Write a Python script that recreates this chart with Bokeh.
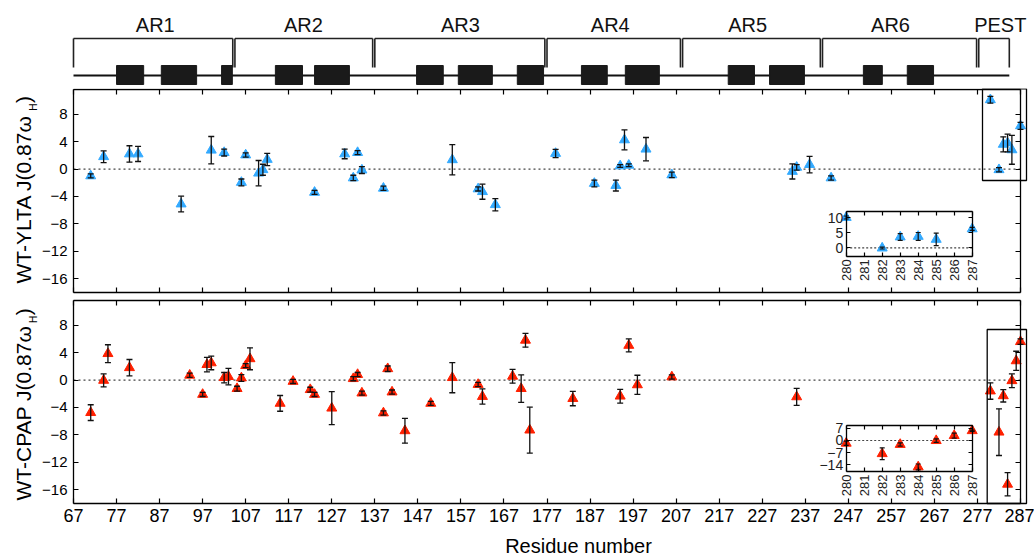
import math
import numpy as np
from bokeh.plotting import figure
from bokeh.models import (Range1d, LinearAxis, FixedTicker, ColumnDataSource,
                          CustomLabelingPolicy)
from bokeh.layouts import column
from bokeh.embed import file_html
from bokeh.resources import INLINE
from bokeh.core.properties import value

FONT = "Liberation Sans"

# ---------------- data ----------------
res_ylta = [71, 74, 80, 82, 92, 99, 102, 106, 107, 110, 111, 112, 123, 130, 132, 133, 134, 139,
            155, 161, 162, 165, 179, 188, 193, 194, 195, 196, 200, 206, 234, 235, 238, 243,
            280, 282, 283, 284, 285, 287]
val_ylta = [-1.0, 1.8, 2.2, 2.2, -5.1, 2.75, 2.4, -1.95, 2.05, -0.6, -0.1, 1.4, -3.4, 2.2, -1.3,
            2.4, -0.15, -2.8, 1.35, -2.9, -3.3, -5.2, 2.27, -2.1, -2.4, 0.45, 4.25, 0.55, 2.9,
            -0.85, -0.35, 0.25, 0.65, -1.3, 10.1, -0.1, 3.6, 3.8, 2.8, 6.3]
err_ylta = [0.3, 0.85, 1.2, 1.1, 1.15, 2.0, 0.5, 0.5, 0.3, 1.85, 0.8, 0.9, 0.3, 0.7, 0.4, 0.3,
            0.5, 0.3, 2.2, 0.3, 1.1, 0.9, 0.6, 0.5, 0.8, 0.2, 1.45, 0.2, 1.7, 0.4, 1.1, 0.4,
            1.2, 0.3, 0.5, 0.3, 1.1, 1.3, 2.1, 0.5]

res_cpap = [71, 74, 75, 80, 94, 97, 98, 99, 102, 103, 105, 106, 107, 108, 115, 118, 122, 123,
            127, 132, 133, 134, 139, 140, 141, 144, 150, 155, 161, 162, 169, 171, 172, 173, 183,
            194, 196, 198, 206, 235, 280, 282, 283, 284, 285, 286, 287]
val_cpap = [-4.75, -0.05, 3.85, 1.8, 0.7, -2.1, 2.25, 2.5, 0.35, 0.5, -1.25, 0.3, 2.1, 3.1,
            -3.4, -0.2, -1.4, -2.1, -4.1, 0.2, 0.8, -1.9, -4.8, 1.65, -1.75, -7.4, -3.4, 0.35,
            -0.65, -2.4, 0.55, -1.25, 5.8, -7.3, -2.7, -2.35, 5.05, -0.7, 0.45, -2.45,
            -1.6, -7.6, -2.3, -15.2, -0.1, 2.8, 5.6]
err_cpap = [1.15, 0.95, 1.3, 1.2, 0.3, 0.3, 1.05, 1.0, 0.75, 1.2, 0.35, 0.5, 0.3, 1.6, 1.15,
            0.3, 0.35, 0.3, 2.4, 0.3, 0.3, 0.3, 0.3, 0.4, 0.3, 1.8, 0.3, 2.2, 0.3, 1.1, 1.0,
            2.0, 1.0, 3.35, 1.05, 1.0, 0.95, 1.4, 0.3, 1.25, 1.2, 3.4, 0.9, 1.7, 1.0, 1.4, 0.4]

x_ticks = [67, 77, 87, 97, 107, 117, 127, 137, 147, 157, 167, 177, 187, 197, 207, 217, 227,
           237, 247, 257, 267, 277, 287]
y_ticks = [-16, -12, -8, -4, 0, 4, 8]
inset_x_ticks = [280, 281, 282, 283, 284, 285, 286, 287]
inset1_y_ticks = [0, 5, 10]
inset2_y_ticks = [-14, -7, 0, 7]

dom_names = ["AR1", "AR2", "AR3", "AR4", "AR5", "AR6", "PEST"]
dom_start = [67, 104.5, 137, 177, 208.5, 241, 277.3]
dom_end = [104, 136.5, 176.5, 208, 240.5, 276.8, 284.4]
dom_label_x = [86.0, 120.4, 156.9, 191.7, 223.6, 256.8, 282.3]
hel_start = [77.0, 87.4, 101.4, 113.9, 123.0, 146.7, 156.4, 170.1, 185.0, 195.2, 219.1, 228.7,
             250.5, 260.7]
hel_end = [83.3, 95.6, 103.9, 120.2, 131.1, 152.9, 164.3, 176.2, 191.0, 203.1, 225.2, 236.8,
           254.9, 266.8]

BLUE = "#33aaff"
RED = "#ff2000"

# ---------------- layout constants (pixels) ----------------
W = 1034
XR = (67, 287)
YR = (-18, 11.6)
BL, BR = 73, 14             # plot box left / right margin
FW = W - BL - BR            # 947
FH = 203
PXX = FW / (XR[1] - XR[0])  # px per residue
PXY = FH / (YR[1] - YR[0])  # px per unit
X_FULL = (XR[0] - BL / PXX, XR[1] + BR / PXX)
BASE_SHIFT = 0.32           # glyph text sits this many em below the requested baseline

NO_LABELS = CustomLabelingPolicy(code="return []")


def xdata(px):
    return XR[0] + (px - BL) / PXX


# ---------------- domain diagram ----------------
dom = figure(output_backend="svg", toolbar_location=None, width=W, height=88,
             x_range=Range1d(*X_FULL), y_range=Range1d(88, 0),
             min_border=0, x_axis_location=None, y_axis_location=None, outline_line_color=None)
dom.xgrid.visible = False
dom.ygrid.visible = False
n = len(dom_start)
dom.segment(x0=dom_start, x1=dom_end, y0=[38] * n, y1=[38] * n, line_color="#222", line_width=1.6)
dom.segment(x0=dom_start, x1=dom_start, y0=[38] * n, y1=[67] * n, line_color="#222", line_width=1.6)
dom.segment(x0=dom_end, x1=dom_end, y0=[38] * n, y1=[67] * n, line_color="#222", line_width=1.6)
dom.segment(x0=[dom_start[0]], x1=[dom_end[-1]], y0=[75], y1=[75], line_color="#111", line_width=2)
dom.quad(left=hel_start, right=hel_end, bottom=[84] * len(hel_start), top=[65] * len(hel_start),
         fill_color="#1a1a1a", line_color="#1a1a1a")
dom.text(x=dom_label_x, y=[31 - BASE_SHIFT * 20] * n, text=dom_names, text_font=value(FONT),
         text_font_size="20px", text_align="center", text_baseline="alphabetic",
         text_color="#111")


def style_axis(ax, tick_len=5, labels=True, size="15px", standoff=6, lw=1.3):
    ax.major_tick_in = tick_len
    ax.major_tick_out = 0
    ax.minor_tick_line_color = None
    ax.axis_line_color = "black"
    ax.axis_line_width = lw
    ax.major_tick_line_color = "black"
    ax.major_tick_line_width = 1.2
    ax.major_label_text_font = FONT
    ax.major_label_text_color = "black"
    ax.major_label_text_font_size = size
    ax.major_label_standoff = standoff
    if not labels:
        ax.major_label_policy = NO_LABELS


def add_errbars(p, src, cap, lw, **kw):
    p.segment(x0="x", x1="x", y0="lo", y1="hi", source=src, line_color="#111", line_width=lw, **kw)
    p.scatter("x", "lo", source=src, marker="dash", size=cap, line_color="#111", line_width=lw, **kw)
    p.scatter("x", "hi", source=src, marker="dash", size=cap, line_color="#111", line_width=lw, **kw)


def make_panel(res, val, err, color, name, canvas, area, title_start_px, box, inset):
    c_top, c_bot = canvas          # canvas rows on the page
    a_top, a_bot = area            # plot-box rows on the page

    def ydata(px):
        return YR[1] - (px - a_top) / PXY

    p = figure(output_backend="svg", toolbar_location=None, width=W, height=c_bot - c_top,
               x_range=Range1d(*X_FULL), y_range=Range1d(ydata(c_bot), ydata(c_top)),
               min_border=0, x_axis_location=None, y_axis_location=None,
               outline_line_color=None, background_fill_color="white")
    p.xgrid.visible = False
    p.ygrid.visible = False

    # axes forming the plot box
    left = LinearAxis(ticker=FixedTicker(ticks=y_ticks), fixed_location=XR[0], bounds=YR)
    style_axis(left)
    p.add_layout(left, "left")
    right = LinearAxis(ticker=FixedTicker(ticks=y_ticks), fixed_location=XR[1], bounds=YR)
    style_axis(right, labels=False)
    p.add_layout(right, "right")
    above = LinearAxis(ticker=FixedTicker(ticks=x_ticks), fixed_location=YR[1], bounds=XR)
    style_axis(above, labels=False)
    p.add_layout(above, "above")
    bottom = name == "CPAP"
    below = LinearAxis(ticker=FixedTicker(ticks=x_ticks), fixed_location=YR[0], bounds=XR)
    if bottom:
        style_axis(below, size="18px", standoff=5)
    else:
        style_axis(below, labels=False)
    p.add_layout(below, "below")

    # dotted zero line
    p.segment(x0=[XR[0]], x1=[XR[1]], y0=[0], y1=[0], line_dash="2 3", line_color="#444",
              line_width=1.2)

    r = np.array(res, dtype=float)
    v = np.array(val, dtype=float)
    e = np.array(err, dtype=float)
    src = ColumnDataSource(dict(x=r, y=v, lo=v - e, hi=v + e))
    p.scatter("x", "y", source=src, marker="triangle", size=10, fill_color=color,
              line_color=color)
    add_errbars(p, src, 6, 1.3)

    # PEST highlight box
    p.quad(left=[xdata(box[0])], right=[xdata(box[1])], bottom=[ydata(box[3])],
           top=[ydata(box[2])], fill_color=None, line_color="black", line_width=1.3)

    # y title with subscript H (rotated; text "down" points to +x)
    em = 21.0
    main = "WT-" + name + " J(0.87\u03c9"
    main_w = (8.226 + (0.222 if name == "CPAP" else 0.0)) * em
    y0 = title_start_px
    bx = 29.3 - BASE_SHIFT * em
    p.text(x=[xdata(bx)], y=[ydata(y0)], text=[main], angle=math.pi / 2,
           text_font=value(FONT), text_font_size="21px", text_align="left",
           text_baseline="alphabetic", text_color="black")
    p.text(x=[xdata(36.5 - BASE_SHIFT * 10)], y=[ydata(y0 - main_w)], text=["H"],
           angle=math.pi / 2, text_font=value(FONT), text_font_size="10px", text_align="left",
           text_baseline="alphabetic", text_color="black")
    p.text(x=[xdata(bx)], y=[ydata(y0 - main_w - 7.8)], text=[")"], angle=math.pi / 2,
           text_font=value(FONT), text_font_size="21px", text_align="left",
           text_baseline="alphabetic", text_color="black")

    if bottom:
        p.text(x=[xdata(578)], y=[ydata(552 - BASE_SHIFT * 20)], text=["Residue number"],
               text_font=value(FONT), text_font_size="20px", text_align="center",
               text_baseline="alphabetic", text_color="black")

    # ---------- inset (own ranges mapped onto the same canvas) ----------
    (ix0, ix1, iy0, iy1, iyr, iyt) = inset
    ppx = (ix1 - ix0) / (inset_x_ticks[-1] - inset_x_ticks[0])
    ppy = (iy1 - iy0) / (iyr[1] - iyr[0])
    xs = inset_x_ticks[0] - ix0 / ppx
    xe = inset_x_ticks[-1] + (W - ix1) / ppx
    ys = iyr[0] - (c_bot - iy1) / ppy
    ye = iyr[1] + (iy0 - c_top) / ppy
    p.extra_x_ranges = {"ix": Range1d(xs, xe)}
    p.extra_y_ranges = {"iy": Range1d(ys, ye)}
    kw = dict(x_range_name="ix", y_range_name="iy")
    ixr = (inset_x_ticks[0], inset_x_ticks[-1])
    p.quad(left=[ixr[0]], right=[ixr[1]], bottom=[iyr[0]], top=[iyr[1]],
           fill_color="white", line_color=None, **kw)
    p.segment(x0=[ixr[0]], x1=[ixr[1]], y0=[0], y1=[0], line_dash="2 2",
              line_color="#444", line_width=1.2, **kw)
    m = r >= 280
    isrc = ColumnDataSource(dict(x=r[m], y=v[m], lo=v[m] - e[m], hi=v[m] + e[m]))
    p.scatter("x", "y", source=isrc, marker="triangle", size=10, fill_color=color,
              line_color=color, **kw)
    add_errbars(p, isrc, 5, 1.2, **kw)

    ib = LinearAxis(ticker=FixedTicker(ticks=inset_x_ticks), fixed_location=iyr[0],
                    bounds=ixr, **kw)
    style_axis(ib, tick_len=4, size="13px", standoff=3)
    ib.major_label_orientation = math.pi / 2
    ib.major_label_text_color = "#222"
    p.add_layout(ib, "below")
    ia = LinearAxis(ticker=FixedTicker(ticks=inset_x_ticks), fixed_location=iyr[1],
                    bounds=ixr, **kw)
    style_axis(ia, tick_len=4, labels=False)
    p.add_layout(ia, "above")
    il = LinearAxis(ticker=FixedTicker(ticks=iyt), fixed_location=ixr[0], bounds=iyr, **kw)
    style_axis(il, tick_len=4, size="14px", standoff=3)
    il.major_label_text_color = "#222"
    p.add_layout(il, "left")
    ir = LinearAxis(ticker=FixedTicker(ticks=iyt), fixed_location=ixr[1], bounds=iyr, **kw)
    style_axis(ir, tick_len=4, labels=False)
    p.add_layout(ir, "right")
    return p


p1 = make_panel(res_ylta, val_ylta, err_ylta, BLUE, "YLTA", (88, 296), (89, 292), 283,
                (982, 1026, 88.3, 180),
                (845.7, 971.7, 210.7, 255.7, (-2.8, 12.2), inset1_y_ticks))
p2 = make_panel(res_cpap, val_cpap, err_cpap, RED, "CPAP", (296, 557), (300, 503), 500,
                (986.7, 1026, 329, 503),
                (845.7, 971.7, 425.0, 471.0, (-17.8, 8.6), inset2_y_ticks))

layout = column(dom, p1, p2, spacing=0)

open("out.html", "w").write(file_html(layout, INLINE))
